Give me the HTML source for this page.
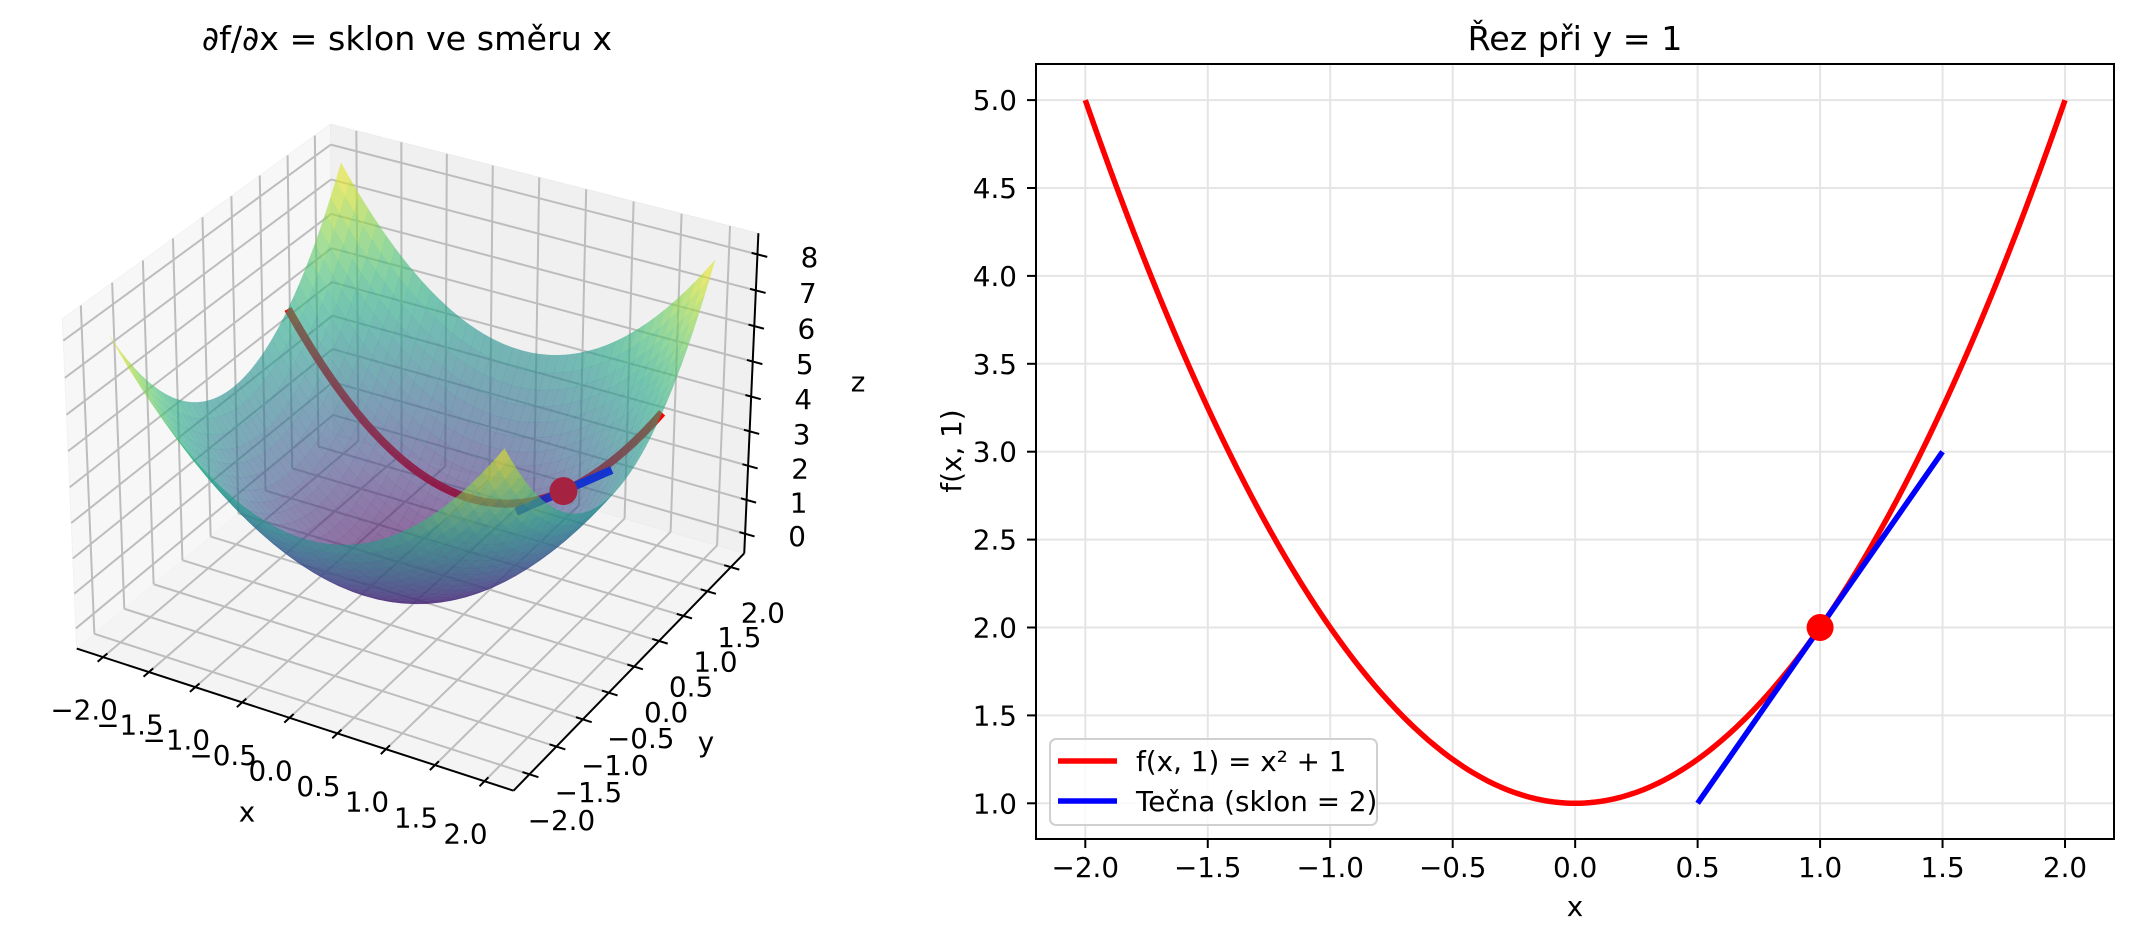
<!DOCTYPE html>
<html><head><meta charset="utf-8"><style>
html,body{margin:0;padding:0;background:#fff;}
svg{display:block;}
text{font-family:"DejaVu Sans","Liberation Sans",sans-serif;}
</style></head><body>
<svg id="s" xmlns="http://www.w3.org/2000/svg" width="2133" height="940" viewBox="0 0 2133 940">
<rect width="2133" height="940" fill="#fff"/>
<g id="left"></g>
<g id="right"></g>
</svg>
<script>
(function(){
const NS="http://www.w3.org/2000/svg";
function el(parent,tag,attrs,txt){const e=document.createElementNS(NS,tag);for(const k in attrs)e.setAttribute(k,attrs[k]);if(txt!==undefined)e.textContent=txt;parent.appendChild(e);return e;}
const L=document.getElementById('left'), R=document.getElementById('right');
// ---------- 3D projection via DLT ----------
const xl=-2.29,xh=2.29,yl=-2.29,yh=2.29,zl=-0.583,zh=8.583;
const P=[
[xl,yl,zl,76.7,647.5],[xh,yl,zl,513,790],[xh,yh,zl,745,553],[xh,yh,zh,759,233],
[xl,yl,zh,62.3,319.3],[xl,yh,zh,330.7,124],
[-2,yl,zl,103,658],[2,yl,zl,483,782],[xh,-2,zl,531.7,774],[xh,2,zl,731.7,566.7],
[xh,yh,0,743.3,535],[xh,yh,8,756.7,254.3]];
const A=[],b=[];
P.forEach(p=>{const [X,Y,Z,u,v]=p;
A.push([X,Y,Z,1,0,0,0,0,-u*X,-u*Y,-u*Z]);b.push(u);
A.push([0,0,0,0,X,Y,Z,1,-v*X,-v*Y,-v*Z]);b.push(v);});
const n=11,N=[];for(let i=0;i<n;i++){N.push(new Array(n+1).fill(0));}
for(let r=0;r<A.length;r++){for(let i=0;i<n;i++){for(let j=0;j<n;j++)N[i][j]+=A[r][i]*A[r][j];N[i][n]+=A[r][i]*b[r];}}
for(let c=0;c<n;c++){let m=c;for(let r=c+1;r<n;r++)if(Math.abs(N[r][c])>Math.abs(N[m][c]))m=r;
[N[c],N[m]]=[N[m],N[c]];for(let r=0;r<n;r++){if(r===c)continue;const f=N[r][c]/N[c][c];for(let k=c;k<=n;k++)N[r][k]-=f*N[c][k];}}
const p=N.map((row,i)=>row[n]/row[i]);
function pr(X,Y,Z){const w=p[8]*X+p[9]*Y+p[10]*Z+1;return [(p[0]*X+p[1]*Y+p[2]*Z+p[3])/w,(p[4]*X+p[5]*Y+p[6]*Z+p[7])/w,w];}
function poly(pts3,attrs){const s=pts3.map(q=>{const t=pr(q[0],q[1],q[2]);return t[0].toFixed(2)+','+t[1].toFixed(2);}).join(' ');const a=Object.assign({points:s},attrs);return el(L,'polygon',a);}
function line3(a,c,attrs){const s=pr(a[0],a[1],a[2]),e=pr(c[0],c[1],c[2]);return el(L,'line',Object.assign({x1:s[0],y1:s[1],x2:e[0],y2:e[1]},attrs));}
function pl3(pts3,attrs){const s=pts3.map(q=>{const t=pr(q[0],q[1],q[2]);return t[0].toFixed(2)+','+t[1].toFixed(2);}).join(' ');return el(L,'polyline',Object.assign({points:s,fill:'none'},attrs));}
// panes
poly([[xl,yl,zl],[xh,yl,zl],[xh,yh,zl],[xl,yh,zl]],{fill:'#f4f4f4',stroke:'#f0f0f0'});
poly([[xl,yl,zl],[xl,yh,zl],[xl,yh,zh],[xl,yl,zh]],{fill:'#f7f7f7',stroke:'#f2f2f2'});
poly([[xl,yh,zl],[xh,yh,zl],[xh,yh,zh],[xl,yh,zh]],{fill:'#f0f0f0',stroke:'#ececec'});
const g={stroke:'#bdbdbd','stroke-width':2};
const xt=[-2,-1.5,-1,-0.5,0,0.5,1,1.5,2],zt=[0,1,2,3,4,5,6,7,8];
xt.forEach(t=>{line3([t,yl,zl],[t,yh,zl],g);line3([xl,t,zl],[xh,t,zl],g);
line3([t,yh,zl],[t,yh,zh],g);line3([xl,t,zl],[xl,t,zh],g);});
zt.forEach(t=>{line3([xl,yl,t],[xl,yh,t],g);line3([xl,yh,t],[xh,yh,t],g);});
// axes
const ax={stroke:'#000','stroke-width':2};
line3([xl,yl,zl],[xh,yl,zl],ax);line3([xh,yl,zl],[xh,yh,zl],ax);line3([xh,yh,zl],[xh,yh,zh],ax);
function lab(x,y,t,sz){el(L,'text',{x:x,y:y,'font-size':sz||27.8,'text-anchor':'middle','dominant-baseline':'central',fill:'#000'},t);}
function fmt(t){return (t<0?'\u2212':'')+Math.abs(t).toFixed(1);}
xt.forEach(t=>{line3([t,yl+0.07,zl],[t,yl-0.09,zl],ax);const q=pr(t,yl,zl);lab(q[0]-19,q[1]+53,fmt(t));});
xt.forEach(t=>{line3([xh-0.07,t,zl],[xh+0.09,t,zl],ax);const q=pr(xh,t,zl);lab(q[0]+32,q[1]+46,fmt(t));});
zt.forEach(t=>{line3([xh-0.06,yh,t],[xh+0.1,yh,t],ax);const q=pr(xh,yh,t);lab(q[0]+52,q[1]+3,String(t));});
lab(247,812,'x');lab(706,742,'y');lab(858,382,'z');
// curves under surface
const cur=[];for(let i=0;i<=100;i++){const x=-2+4*i/100;cur.push([x,1,x*x+1]);}
pl3(cur,{stroke:'#ff0000','stroke-width':8,'stroke-linejoin':'round'});
pl3([[0.5,1,1],[1.5,1,3]],{stroke:'#0000ff','stroke-width':8});
// surface
const vir=[[68,1,84],[72,36,117],[65,68,135],[53,95,141],[42,120,142],[33,145,140],[34,168,132],[68,191,112],[122,209,81],[189,223,38],[253,231,37]];
function cmap(t){t=Math.max(0,Math.min(1,t))*10;const i=Math.min(9,Math.floor(t)),f=t-i;const a=vir[i],c=vir[i+1];return 'rgb('+[0,1,2].map(k=>Math.round(a[k]+(c[k]-a[k])*f)).join(',')+')';}
const M=40,quads=[];
for(let i=0;i<M;i++)for(let j=0;j<M;j++){
const x0=-2+4*i/M,x1=-2+4*(i+1)/M,y0=-2+4*j/M,y1=-2+4*(j+1)/M;
const c=[[x0,y0],[x1,y0],[x1,y1],[x0,y1]].map(q=>[q[0],q[1],q[0]*q[0]+q[1]*q[1]]);
const pp=c.map(q=>pr(q[0],q[1],q[2]));
const w=(pp[0][2]+pp[1][2]+pp[2][2]+pp[3][2])/4;
const zavg=(c[0][2]+c[1][2]+c[2][2]+c[3][2])/4;
quads.push({pp,w,z:zavg});}
quads.sort((a,b)=>b.w-a.w);
const sg=el(L,'g',{opacity:1});
quads.forEach(q=>{const s=q.pp.map(t=>t[0].toFixed(2)+','+t[1].toFixed(2)).join(' ');
const col=cmap(q.z/8);el(sg,'polygon',{points:s,fill:col,'fill-opacity':0.6,stroke:col,'stroke-opacity':0.15,'stroke-width':0.5});});
// top items
pl3([[0.85,1,1.7],[1.5,1,3]],{stroke:'#1434d0','stroke-width':8});
const d=pr(1,1,2);el(L,'circle',{cx:d[0],cy:d[1],r:14,fill:'#a52340'});
el(L,'text',{x:407,y:50,'font-size':33.3,'text-anchor':'middle',fill:'#000'},'\u2202f/\u2202x = sklon ve sm\u011bru x');
// ---------- right 2D plot ----------
const X=x=>1085.3+(x+2)*244.93, Y=y=>803.3-(y-1)*175.8;
const gl={stroke:'#e5e5e5','stroke-width':2};
for(let t=-2;t<=2.001;t+=0.5){el(R,'line',Object.assign({x1:X(t),y1:64,x2:X(t),y2:839},gl));}
for(let t=1;t<=5.001;t+=0.5){el(R,'line',Object.assign({x1:1036,y1:Y(t),x2:2114,y2:Y(t)},gl));}
const pts=[];for(let i=0;i<=200;i++){const x=-2+4*i/200;pts.push(X(x).toFixed(2)+','+Y(x*x+1).toFixed(2));}
el(R,'polyline',{points:pts.join(' '),fill:'none',stroke:'#ff0000','stroke-width':5.5});
el(R,'line',{x1:X(0.5),y1:Y(1),x2:X(1.5),y2:Y(3),stroke:'#0000ff','stroke-width':5.5});
el(R,'circle',{cx:X(1),cy:Y(2),r:13.5,fill:'#ff0000'});
el(R,'rect',{x:1036,y:64,width:1078,height:775,fill:'none',stroke:'#000','stroke-width':2});
for(let t=-2;t<=2.001;t+=0.5){el(R,'line',{x1:X(t),y1:839,x2:X(t),y2:848,stroke:'#000','stroke-width':2});
el(R,'text',{x:X(t),y:877,'font-size':27.8,'text-anchor':'middle',fill:'#000'},fmt(Math.round(t*10)/10));}
for(let t=1;t<=5.001;t+=0.5){el(R,'line',{x1:1027,y1:Y(t),x2:1036,y2:Y(t),stroke:'#000','stroke-width':2});
el(R,'text',{x:1017,y:Y(t)+10,'font-size':27.8,'text-anchor':'end',fill:'#000'},t.toFixed(1));}
el(R,'text',{x:1575,y:916,'font-size':27.8,'text-anchor':'middle',fill:'#000'},'x');
el(R,'text',{x:0,y:0,'font-size':27.8,'text-anchor':'middle',fill:'#000',transform:'translate(961,451) rotate(-90)'},'f(x, 1)');
el(R,'text',{x:1575,y:50,'font-size':33.3,'text-anchor':'middle',fill:'#000'},'\u0158ez p\u0159i y = 1');
// legend
el(R,'rect',{x:1050,y:739,width:327,height:86,rx:6,fill:'#fff','fill-opacity':0.8,stroke:'#d0d0d0','stroke-width':2});
el(R,'line',{x1:1058,y1:761,x2:1117,y2:761,stroke:'#ff0000','stroke-width':5.5});
el(R,'line',{x1:1058,y1:801,x2:1117,y2:801,stroke:'#0000ff','stroke-width':5.5});
el(R,'text',{x:1136,y:771,'font-size':27.8,fill:'#000'},'f(x, 1) = x\u00b2 + 1');
el(R,'text',{x:1136,y:811,'font-size':27.8,fill:'#000'},'Te\u010dna (sklon = 2)');
})();
</script>
</body></html>
